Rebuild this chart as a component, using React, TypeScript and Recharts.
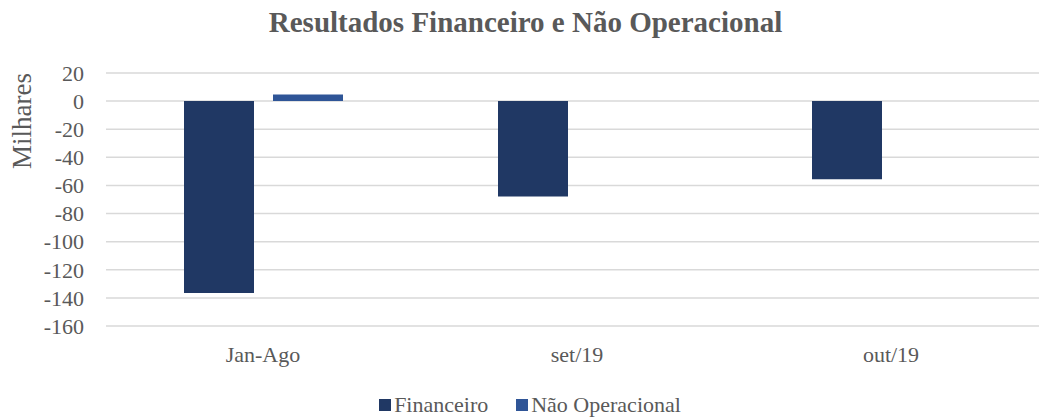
import { Bar, BarChart, CartesianGrid, XAxis, YAxis } from "recharts";

const categories = ["Jan-Ago", "set/19", "out/19"];
const financeiro = [-136.5, -67.9, -55.6];
const naoOperacional: Array<number | null> = [4.7, null, null];
const yTicks = [20, 0, -20, -40, -60, -80, -100, -120, -140, -160];

const series = [
	{ key: "financeiro", name: "Financeiro", color: "#203864" },
	{ key: "naoOperacional", name: "Não Operacional", color: "#2f5597" },
];

const data = categories.map((name, i) => ({
	name,
	financeiro: financeiro[i],
	naoOperacional: naoOperacional[i],
}));

const FONT = '"Liberation Serif", "DejaVu Serif", serif';
const TEXT = "#595959";

function AxisTitle({ viewBox }: any) {
	const x = viewBox.x + 22;
	const y = viewBox.y + 48;
	return (
		<text
			x={x}
			y={y}
			transform={`rotate(-90, ${x}, ${y})`}
			textAnchor="middle"
			dominantBaseline="central"
			fontSize={27}
			fontFamily={FONT}
			fill={TEXT}
		>
			Milhares
		</text>
	);
}

export default function App() {
	return (
		<div
			style={{
				position: "relative",
				width: 1039,
				height: 418,
				overflow: "hidden",
				background: "white",
				fontFamily: FONT,
			}}
		>
			<style>{"body{margin:0;overflow:hidden}"}</style>
			<div
				style={{
					position: "absolute",
					top: 6,
					left: 0,
					width: 1051,
					textAlign: "center",
					fontSize: 29,
					fontWeight: "bold",
					color: TEXT,
				}}
			>
				Resultados Financeiro e Não Operacional
			</div>
			<BarChart
				width={1060}
				height={418}
				data={data}
				margin={{ top: 73, right: 12, bottom: 62, left: 0 }}
				barSize={70}
				barGap={19}
			>
				<CartesianGrid
					vertical={false}
					stroke="#d9d9d9"
					strokeWidth={1.5}
				/>
				<XAxis
					dataKey="name"
					height={30}
					axisLine={false}
					tickLine={false}
					tickMargin={14}
					tick={{ fontSize: 22, fill: TEXT, fontFamily: FONT }}
				/>
				<YAxis
					width={106}
					domain={[-160, 20]}
					ticks={yTicks}
					interval={0}
					axisLine={false}
					tickLine={false}
					tickMargin={16}
					tick={{ fontSize: 22, fill: TEXT, fontFamily: FONT }}
					label={<AxisTitle />}
				/>
				{series.map((s) => (
					<Bar
						key={s.key}
						dataKey={s.key}
						name={s.name}
						fill={s.color}
						isAnimationActive={false}
					/>
				))}
			</BarChart>
			<div
				style={{
					position: "absolute",
					top: 392,
					left: 0,
					width: 1060,
					display: "flex",
					justifyContent: "center",
					gap: 28,
					fontSize: 22,
					color: TEXT,
					lineHeight: "26px",
				}}
			>
				{series.map((s) => (
					<div key={s.key} style={{ display: "flex", alignItems: "center" }}>
						<span
							style={{
								display: "inline-block",
								width: 12,
								height: 12,
								background: s.color,
								marginRight: 3,
							}}
						/>
						{s.name}
					</div>
				))}
			</div>
		</div>
	);
}
